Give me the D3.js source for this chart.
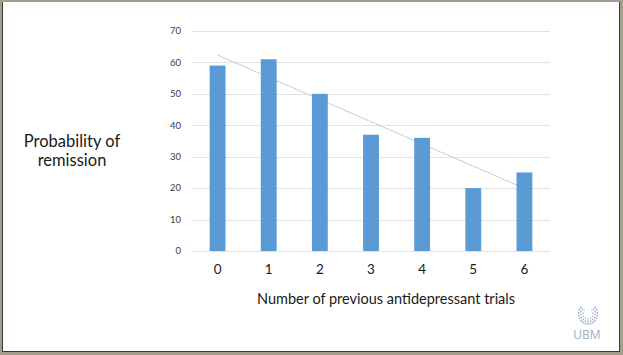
<!DOCTYPE html>
<html><head><meta charset="utf-8">
<script src="https://cdn.jsdelivr.net/npm/d3@7"></script>
<style>html,body{margin:0;padding:0;background:#fff;}svg{display:block;}</style>
</head><body>
<svg id="c" width="623" height="355"></svg>
<script>
const categories = ["0","1","2","3","4","5","6"];
const values = [59, 61, 50, 37, 36, 20, 25];
const yTicks = [0, 10, 20, 30, 40, 50, 60, 70];
const yTitle = ["Probability of", "remission"];
const xTitle = "Number of previous antidepressant trials";

const svg = d3.select("#c");
const font = "Lato, 'Open Sans', sans-serif";

// frame
svg.append("rect").attr("x",0).attr("y",0).attr("width",623).attr("height",355).attr("fill","#a39d8c");
svg.append("rect").attr("x",2).attr("y",2).attr("width",618).attr("height",350).attr("fill","#3a3a3a");
svg.append("rect").attr("x",3).attr("y",2).attr("width",616).attr("height",349).attr("fill","#ffffff");

const x = d3.scaleBand().domain(categories).range([192, 550]).paddingInner(0.69).paddingOuter(0.345);
const y = d3.scaleLinear().domain([0, 70]).range([251, 31]);

// gridlines
svg.append("g").selectAll("line").data(yTicks).join("line")
  .attr("x1", 192).attr("x2", 550)
  .attr("y1", d => Math.round(y(d)) + 0.5).attr("y2", d => Math.round(y(d)) + 0.5)
  .attr("stroke", "#e3e3e3").attr("stroke-width", 1);

// y tick labels
svg.append("g").selectAll("text").data(yTicks).join("text")
  .attr("x", 181).attr("y", d => y(d)).attr("dy", "0.35em")
  .attr("text-anchor", "end").attr("font-family", font).attr("font-size", 9.5)
  .attr("fill", "#404040").text(d => d);

// linear trendline (least squares on the bar values)
const xs = categories.map((c, i) => i);
const mx = d3.mean(xs), my = d3.mean(values);
const slope = d3.sum(xs, (v, i) => (v - mx) * (values[i] - my)) / d3.sum(xs, v => (v - mx) ** 2);
const icpt = my - slope * mx;
const cx = c => x(c) + x.bandwidth() / 2;
svg.append("line")
  .attr("x1", cx(categories[0])).attr("y1", y(icpt))
  .attr("x2", cx(categories[6])).attr("y2", y(icpt + slope * 6))
  .attr("stroke", "#9dbfe2").attr("stroke-width", 1).attr("stroke-dasharray", "2,0.7");

// bars
svg.append("g").selectAll("rect").data(values).join("rect")
  .attr("x", (d, i) => x(categories[i])).attr("width", x.bandwidth())
  .attr("y", d => y(d)).attr("height", d => y(0) - y(d))
  .attr("fill", "#5b9bd5");

// x tick labels
svg.append("g").selectAll("text").data(categories).join("text")
  .attr("x", d => cx(d)).attr("y", 274)
  .attr("text-anchor", "middle").attr("font-family", font).attr("font-size", 13.5)
  .attr("fill", "#1a1a1a").text(d => d);

// x title
svg.append("text").attr("x", 386).attr("y", 303.5).attr("text-anchor", "middle")
  .attr("font-family", font).attr("font-size", 14.5).attr("fill", "#1a1a1a").text(xTitle);

// y title
svg.append("g").selectAll("text").data(yTitle).join("text")
  .attr("x", 72).attr("y", (d, i) => 146.5 + i * 19).attr("text-anchor", "middle")
  .attr("font-family", font).attr("font-size", 16.5).attr("fill", "#1a1a1a").text(d => d);

// UBM logo: globe of dots open at the top
const logo = svg.append("g").attr("transform", "translate(588,313.5)").attr("fill", "#a3b6ca");
const dots = [];
[5.5, 8, 10.5].forEach((r, k) => {
  const n = [9, 13, 17][k];
  for (let j = 0; j < n; j++) {
    const a = Math.PI * (-0.2 + 1.4 * j / (n - 1));
    dots.push([r * Math.cos(a) * 0.9, r * Math.sin(a), [0.75, 0.9, 1.0][k]]);
  }
});
logo.selectAll("circle").data(dots).join("circle")
  .attr("cx", d => d[0]).attr("cy", d => d[1]).attr("r", d => d[2]);
svg.append("text").attr("x", 587).attr("y", 338.5).attr("text-anchor", "middle")
  .attr("font-family", "'Open Sans', sans-serif").attr("font-size", 12).attr("fill", "#98afc7").text("UBM");
</script>
</body></html>
